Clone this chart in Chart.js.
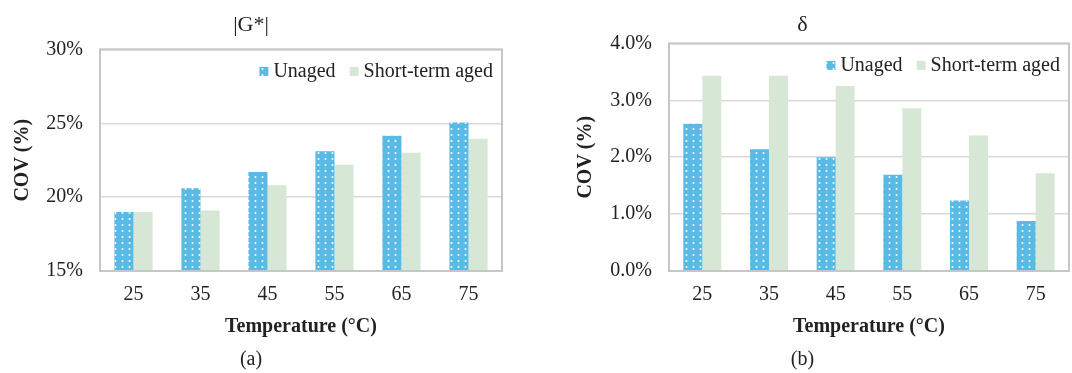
<!DOCTYPE html>
<html>
<head>
<meta charset="utf-8">
<script src="https://cdn.jsdelivr.net/npm/chart.js@4/dist/chart.umd.min.js"></script>
<style>
  body { margin: 0; background: #fff; }
  #lienzo { position: relative; width: 1072px; height: 373px; }
  canvas { position: absolute; top: 0; }
</style>
</head>
<body>
<div id="lienzo">
  <canvas id="grafico-g" width="536" height="373" style="left:0"></canvas>
  <canvas id="grafico-delta" width="536" height="373" style="left:536px"></canvas>
</div>
<script>
const temperaturas = ["25", "35", "45", "55", "65", "75"];
const series = ["Unaged", "Short-term aged"];
const gSinEnvejecer = [19.0, 20.6, 21.7, 23.1, 24.15, 25.05];
const gEnvejecido = [19.0, 19.1, 20.8, 22.2, 23.0, 23.95];
const deltaSinEnvejecer = [2.59, 2.14, 2.0, 1.69, 1.24, 0.88];
const deltaEnvejecido = [3.43, 3.43, 3.25, 2.86, 2.38, 1.72];

const FUENTE = "'Liberation Serif', 'Times New Roman', serif";
const TEXTO = "#222";
const AZUL = "#59BBE5";
const VERDE = "#D6E8D5";

// trama de puntos blancos para la serie sin envejecer
function trama() {
    const t = document.createElement("canvas");
    t.width = 7;
    t.height = 6;
    const c = t.getContext("2d");
    c.fillStyle = AZUL;
    c.fillRect(0, 0, 7, 6);
    c.fillStyle = "#fff";
    c.beginPath();
    c.arc(3.5, 3, 1, 0, Math.PI * 2);
    c.fill();
    return c.createPattern(t, "repeat");
}

const marco = {
    id: "marco",
    afterDatasetsDraw(chart) {
        const { ctx, chartArea: a } = chart;
        ctx.save();
        ctx.strokeStyle = "#C6C6C6";
        ctx.lineWidth = 2;
        ctx.strokeRect(a.left, a.top, a.right - a.left, a.bottom - a.top);
        ctx.restore();
    },
};

// leyenda dentro del área del gráfico, arriba a la derecha
const leyendaInterna = {
    id: "leyendaInterna",
    afterDraw(chart) {
        const { ctx, chartArea: a } = chart;
        const caja = 9, hueco = 5, sep = 14;
        ctx.save();
        ctx.font = "20px " + FUENTE;
        ctx.textBaseline = "middle";
        const y = a.top + 22;
        let x = a.right - 9;
        const items = chart.data.datasets.map((d) => d).reverse();
        items.forEach((d) => {
            const w = ctx.measureText(d.label).width;
            x -= w;
            ctx.fillStyle = TEXTO;
            ctx.fillText(d.label, x, y);
            x -= hueco + caja;
            ctx.fillStyle = d.backgroundColor;
            ctx.fillRect(x, y - caja / 2, caja, caja);
            x -= sep;
        });
        ctx.restore();
    },
};

function crearGrafico(id, opc) {
    const ctx = document.getElementById(id);
    return new Chart(ctx, {
        type: "bar",
        data: {
            labels: temperaturas,
            datasets: [
                { label: series[0], data: opc.sinEnvejecer, backgroundColor: trama(), categoryPercentage: 0.57, barPercentage: 1 },
                { label: series[1], data: opc.envejecido, backgroundColor: VERDE, categoryPercentage: 0.57, barPercentage: 1 },
            ],
        },
        options: {
            responsive: false,
            animation: false,
            layout: { padding: { left: 0, right: opc.derecha, top: 0, bottom: 0 } },
            plugins: {
                legend: { display: false },
                tooltip: { enabled: false },
                title: {
                    display: true,
                    text: opc.titulo,
                    color: TEXTO,
                    font: { family: FUENTE, size: 22, weight: "normal", lineHeight: 1.2 },
                    padding: { top: 12, bottom: opc.sepTitulo },
                },
                subtitle: {
                    display: true,
                    position: "bottom",
                    text: opc.letra,
                    color: TEXTO,
                    font: { family: FUENTE, size: 20, weight: "normal", lineHeight: 1.2 },
                    padding: { top: 0, bottom: 1 },
                },
            },
            scales: {
                x: {
                    grid: { display: false, drawTicks: false },
                    border: { display: false },
                    ticks: { color: TEXTO, padding: 12, font: { family: FUENTE, size: 20 } },
                    title: {
                        display: true,
                        text: "Temperature (°C)",
                        color: TEXTO,
                        font: { family: FUENTE, size: 20, weight: "bold", lineHeight: 1.2 },
                        padding: { top: 0, bottom: 9 },
                    },
                    afterFit: (s) => { s.height = 77; },
                },
                y: {
                    min: opc.min,
                    max: opc.max,
                    grid: { color: "#D9D9D9", lineWidth: 1.5, drawTicks: false },
                    border: { display: false },
                    ticks: {
                        stepSize: opc.paso,
                        color: TEXTO,
                        padding: 17,
                        font: { family: FUENTE, size: 20 },
                        callback: (v) => v.toFixed(opc.decimales) + "%",
                    },
                    title: {
                        display: true,
                        text: "COV (%)",
                        color: TEXTO,
                        font: { family: FUENTE, size: 20, weight: "bold", lineHeight: 1.2 },
                        padding: { top: opc.sepEje, bottom: 0 },
                    },
                    afterFit: (s) => { s.width = opc.izquierda; },
                },
            },
        },
        plugins: [marco, leyendaInterna],
    });
}

crearGrafico("grafico-g", {
    titulo: "|G*|", letra: "(a)",
    sinEnvejecer: gSinEnvejecer, envejecido: gEnvejecido,
    min: 15, max: 30, paso: 5, decimales: 0,
    izquierda: 100, derecha: 34, sepTitulo: 11, sepEje: 11,
});

crearGrafico("grafico-delta", {
    titulo: "δ", letra: "(b)",
    sinEnvejecer: deltaSinEnvejecer, envejecido: deltaEnvejecido,
    min: 0, max: 4, paso: 1, decimales: 1,
    izquierda: 133, derecha: 3, sepTitulo: 5, sepEje: 38,
});
</script>
</body>
</html>
